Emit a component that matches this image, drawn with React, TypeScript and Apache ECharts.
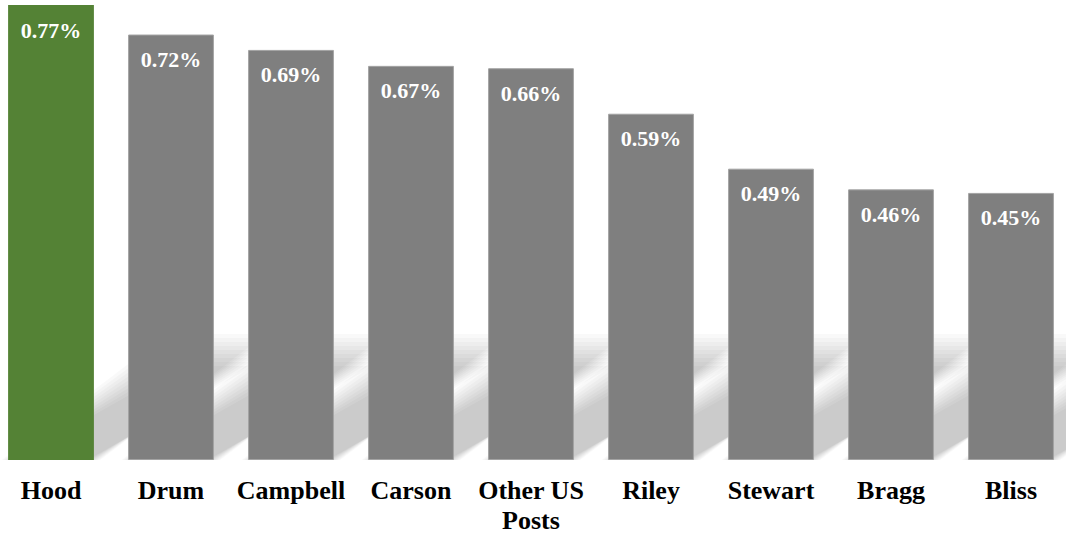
import React, { useEffect, useRef } from "react";
import * as echarts from "echarts";

const categories = ["Hood", "Drum", "Campbell", "Carson", "Other US\nPosts", "Riley", "Stewart", "Bragg", "Bliss"];
const values = [0.77, 0.72, 0.694, 0.667, 0.663, 0.586, 0.493, 0.458, 0.452];
const highlightCategory = "Hood";

const GREEN = "#548235";
const GRAY = "#7f7f7f";
const FONT = "Liberation Serif";

export default function App() {
  const ref = useRef<HTMLDivElement>(null);

  useEffect(() => {
    if (!ref.current) return;
    const chart = echarts.init(ref.current, null, { renderer: "svg" });

    const barData = values.map((v, i) => ({
      value: v,
      itemStyle:
        categories[i] === highlightCategory
          ? { color: GREEN }
          : { color: GRAY, borderColor: "#a3a3a3", borderWidth: 1 },
    }));

    chart.setOption({
      animation: false,
      grid: { left: 0, right: 0, top: 5, bottom: 74, containLabel: false },
      xAxis: {
        type: "category",
        data: categories,
        axisLine: { show: false },
        axisTick: { show: false },
        axisLabel: {
          interval: 0,
          color: "#000",
          fontFamily: FONT,
          fontWeight: "bold",
          fontSize: 26,
          lineHeight: 30,
          margin: 15,
        },
      },
      yAxis: {
        type: "value",
        min: 0,
        max: 0.77,
        show: false,
        splitLine: { show: false },
      },
      series: [
        {
          type: "custom",
          z: 1,
          silent: true,
          data: values.map((v, i) => [i, v]),
          renderItem: (params: any, api: any) => {
            const i = api.value(0);
            const base = api.coord([i, 0]);
            const band = api.size([1, 0])[0];
            const w = (band * 0.715) / 2;
            const h = 116;
            const d = 166;
            const children: any[] = [];
            const layers = 9;
            for (let k = 0; k < layers; k++) {
              const e = (k - (layers - 1) / 2) * 1.6;
              const top = base[1] - h + 6 - e * 2.5;
              children.push({
                type: "polygon",
                shape: {
                  points: [
                    [base[0] - w - e, base[1]],
                    [base[0] + w + e, base[1]],
                    [base[0] + w + e + d, top],
                    [base[0] - w - e + d, top],
                  ],
                },
                style: { fill: "rgba(0,0,0,0.024)" },
              });
            }
            return { type: "group", children };
          },
        },
        {
          type: "bar",
          z: 2,
          data: barData,
          barCategoryGap: "28.5%",
          label: {
            show: true,
            position: "insideTop",
            distance: 14,
            color: "#fff",
            fontFamily: FONT,
            fontWeight: "bold",
            fontSize: 22,
            formatter: (p: any) => p.value.toFixed(2) + "%",
          },
        },
      ],
    });

    return () => chart.dispose();
  }, []);

  return (
    <div
      style={{
        position: "absolute",
        left: 0,
        top: 0,
        width: 1066,
        height: 535,
        overflow: "hidden",
        background: "#fff",
      }}
    >
      <div ref={ref} style={{ position: "absolute", left: -9, top: 0, width: 1080, height: 535 }} />
    </div>
  );
}
